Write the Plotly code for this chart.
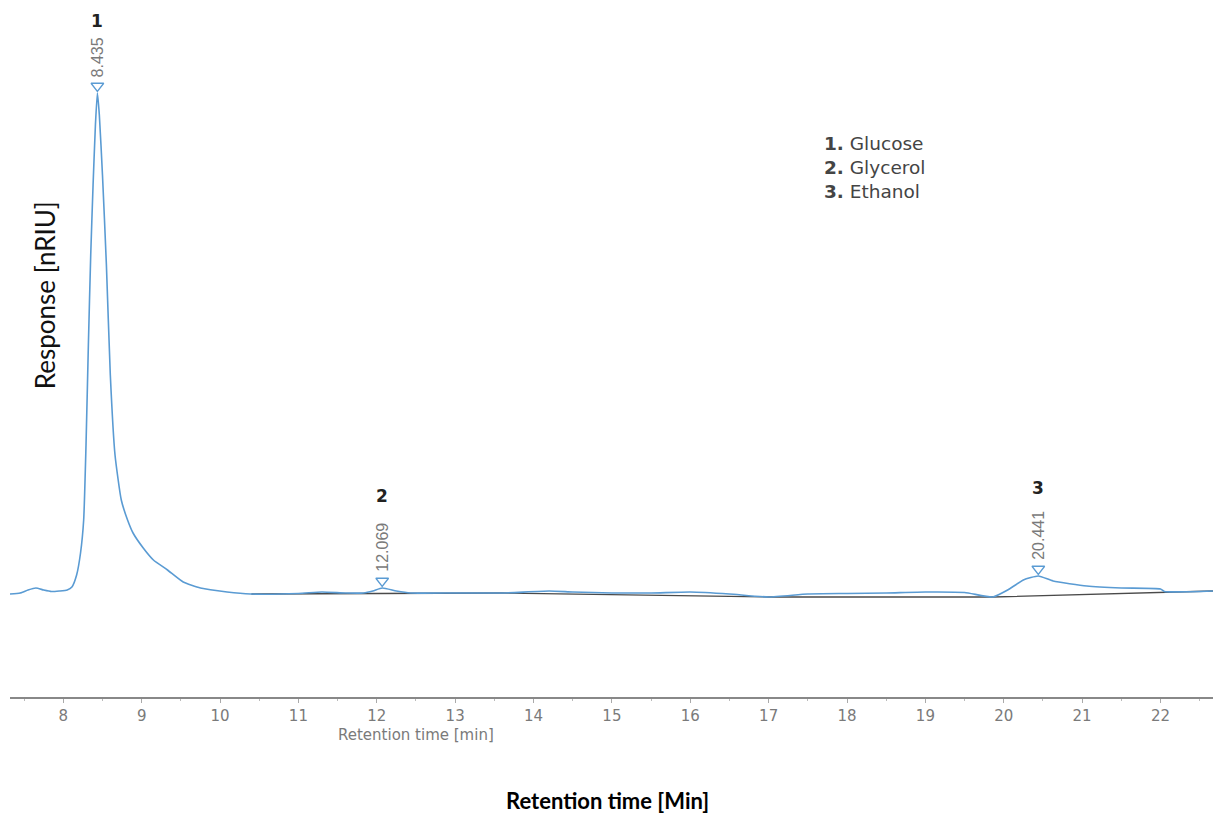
import plotly.graph_objects as go

# Chromatogram signal (retention time [min], response [arbitrary nRIU])
time = [7.32, 7.45, 7.55, 7.65, 7.75, 7.85, 7.95, 8.05, 8.11, 8.17, 8.22, 8.26, 8.29, 8.32, 8.35,
        8.38, 8.41, 8.435, 8.46, 8.50, 8.55, 8.60, 8.66, 8.74, 8.82, 8.89, 9.02, 9.15, 9.33,
        9.53, 9.75, 10.09, 10.39, 11.0, 11.3, 11.6, 11.83, 11.95, 12.069, 12.25, 12.43, 13.0,
        13.6, 14.2, 14.5, 15.0, 15.5, 16.0, 16.5, 17.0, 17.5, 18.0, 18.5, 19.0, 19.5, 19.86,
        20.05, 20.25, 20.441, 20.63, 21.06, 21.5, 22.0, 22.05, 22.67]
response = [1, 2, 5, 7, 5, 3.5, 4, 5, 8, 20, 42, 75, 150, 250, 340,
            410, 470, 502, 480, 420, 330, 220, 140, 95, 75, 62, 47, 35, 25,
            13, 7, 3, 1, 1.5, 3, 2, 2, 4, 7, 4, 2, 2,
            2, 4, 3, 2, 2, 3, 1, -2, 1, 1.5, 2, 3, 2.5, -2,
            5, 15, 19, 14, 9, 7, 6, 3.5, 4]

# Integration baseline
base_time = [10.4, 13.6, 17.0, 19.86, 22.67]
base_resp = [1, 2, -2, -2, 4]

# Peaks
peak_rt = [8.435, 12.069, 20.441]
peak_height = [502, 7, 19]
peak_labels = ["8.435", "12.069", "20.441"]
peak_numbers = ["1", "2", "3"]
compounds = ["Glucose", "Glycerol", "Ethanol"]

blue = "#5a9bd3"

fig = go.Figure()
fig.add_trace(go.Scatter(x=base_time, y=base_resp, mode="lines",
                         line=dict(color="#4a4a4a", width=1.3), hoverinfo="skip"))
fig.add_trace(go.Scatter(x=time, y=response, mode="lines",
                         line=dict(color=blue, width=1.6, shape="spline", smoothing=0.5)))
fig.add_trace(go.Scatter(x=peak_rt, y=[h + 7 for h in peak_height], mode="markers",
                         marker=dict(symbol="triangle-down-open", size=11,
                                     color=blue, line=dict(width=1.3, color=blue))))

ann = []
num_offsets = [72, 92, 88]
for rt, h, lab, num, off in zip(peak_rt, peak_height, peak_labels, peak_numbers, num_offsets):
    ann.append(dict(x=rt, y=h + 14, xref="x", yref="y", text=lab, textangle=-90,
                    showarrow=False, xanchor="center", yanchor="bottom",
                    font=dict(family="Liberation Sans", size=16, color="#7a7a7a")))
    ann.append(dict(x=rt, y=h + off, xref="x", yref="y", text="<b>" + num + "</b>",
                    showarrow=False, xanchor="center", yanchor="middle",
                    font=dict(family="DejaVu Sans", size=17, color="#222222")))

legend_text = "<br>".join("<b>" + n + ".</b> " + c for n, c in zip(peak_numbers, compounds))
ann.append(dict(x=17.68, y=428, xref="x", yref="y", text=legend_text, align="left",
                showarrow=False, xanchor="left", yanchor="middle",
                font=dict(family="DejaVu Sans", size=18.5, color="#444444")))

ann.append(dict(x=7.77, y=300, xref="x", yref="y", text="Response [nRIU]", textangle=-90,
                showarrow=False, xanchor="center", yanchor="middle",
                font=dict(family="Lato", size=26, color="#111111")))
ann.append(dict(x=12.5, y=-0.054, xref="x", yref="paper", text="Retention time [min]",
                showarrow=False, xanchor="center", yanchor="middle",
                font=dict(family="DejaVu Sans", size=15, color="#7a7a7a")))
ann.append(dict(x=0.497, y=-0.149, xref="paper", yref="paper",
                text="<b>Retention time [Min]</b>",
                showarrow=False, xanchor="center", yanchor="middle",
                font=dict(family="Lato", size=22, color="#000000")))

fig.update_layout(
    width=1213, height=818,
    margin=dict(l=10, r=0, t=0, b=121),
    paper_bgcolor="white", plot_bgcolor="white",
    showlegend=False,
    annotations=ann,
    xaxis=dict(range=[7.32, 22.67], tickmode="array",
               tickvals=list(range(8, 23)), ticktext=[str(v) for v in range(8, 23)],
               showgrid=False, zeroline=False, showline=True, linecolor="#888888",
               linewidth=1.5, ticks="outside", ticklen=4, tickcolor="#aaaaaa",
               minor=dict(dtick=0.5, tick0=0, ticks="outside", ticklen=2, tickcolor="#bbbbbb"),
               tickfont=dict(family="DejaVu Sans", size=15, color="#7a7a7a")),
    yaxis=dict(range=[-102, 595], showticklabels=False, showgrid=False,
               zeroline=False, showline=False, ticks=""),
)

fig.write_html("out.html")
